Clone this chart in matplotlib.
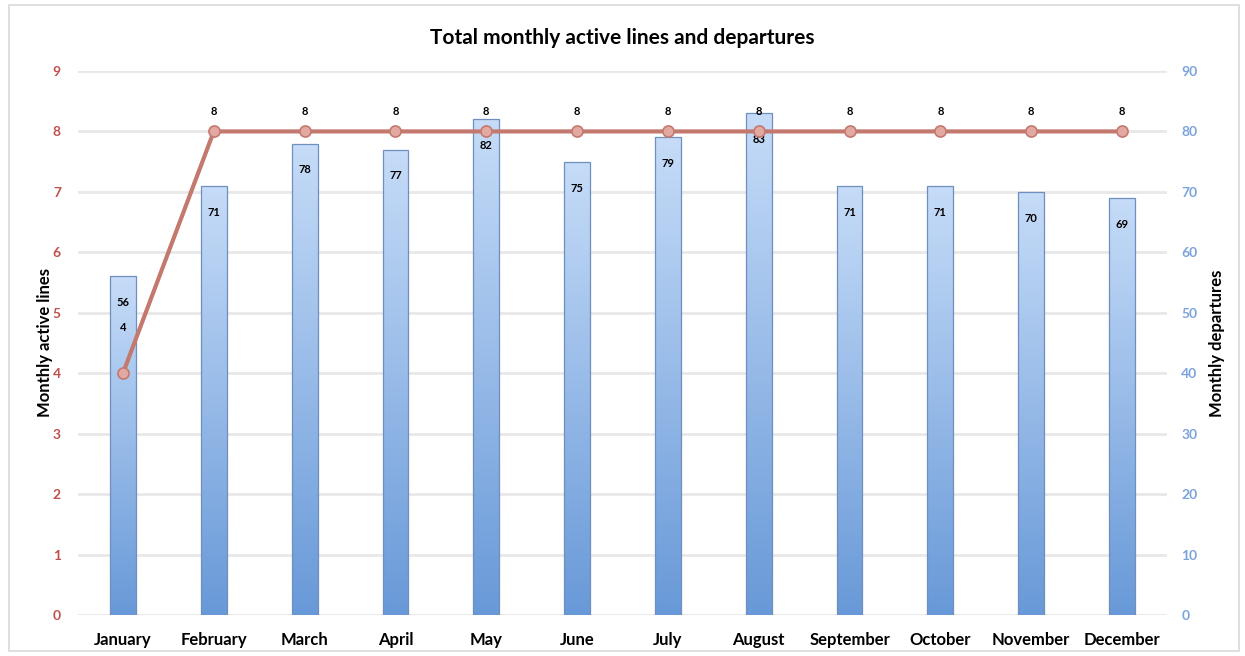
import numpy as np
import matplotlib
matplotlib.use("Agg")
import matplotlib.pyplot as plt
from matplotlib.patches import Rectangle
from matplotlib.colors import LinearSegmentedColormap

months = ["January", "February", "March", "April", "May", "June", "July",
          "August", "September", "October", "November", "December"]
departures = [56, 71, 78, 77, 82, 75, 79, 83, 71, 71, 70, 69]
active_lines = [4, 8, 8, 8, 8, 8, 8, 8, 8, 8, 8, 8]
left_ticks = list(range(0, 10))
right_ticks = list(range(0, 100, 10))

plt.rcParams['font.family'] = ['Lato', 'DejaVu Sans']

fig = plt.figure(figsize=(12.45, 6.56), dpi=100)
fig.patches.append(Rectangle((0.007, 0.008), 0.988, 0.985, transform=fig.transFigure,
                             fill=False, edgecolor='#D9D9D9', lw=1.2, zorder=0))

ax = fig.add_axes([0.0623, 0.0625, 0.8754, 0.8293])
ax2 = ax.twinx()

x = np.arange(len(months))
ax.set_xlim(-0.5, len(months) - 0.5)
ax.set_ylim(0, 9)
ax2.set_ylim(0, 90)

# grid
for t in right_ticks:
    ax2.axhline(t, color='#E8E8E8', lw=2, zorder=0)

# bars with gradient
cmap = LinearSegmentedColormap.from_list('bg', ['#6899D8', '#C6DCF8'])
grad = np.linspace(0, 1, 256).reshape(-1, 1)
bars = ax2.bar(x, departures, width=0.285, color='none', edgecolor='#6F8FBF', lw=0.9, zorder=2)
for b in bars:
    x0, y0 = b.get_x(), b.get_y()
    w, h = b.get_width(), b.get_height()
    im = ax2.imshow(grad, cmap=cmap, aspect='auto', origin='lower',
                    extent=[x0, x0 + w, y0, y0 + h], zorder=1.5, interpolation='bicubic')
    im.set_clip_path(b)
ax2.set_xlim(-0.5, len(months) - 0.5)
ax2.set_ylim(0, 90)
for xi, v in zip(x, departures):
    ax2.annotate(str(v), (xi, v), xytext=(0, -19), textcoords='offset points',
                 ha='center', va='center', fontsize=8, fontweight='bold', color='black', zorder=3)

# line
ax.set_zorder(ax2.get_zorder() + 1)
ax.patch.set_visible(False)
ax.plot(x, active_lines, color='#C4796F', lw=3, marker='o', markersize=8,
        markerfacecolor='#E2A9A2', markeredgecolor='#C4796F', markeredgewidth=1.2, zorder=4)
for i, (xi, v) in enumerate(zip(x, active_lines)):
    off = 33 if i == 0 else 14
    ax.annotate(str(v), (xi, v), xytext=(0, off), textcoords='offset points',
                ha='center', va='center', fontsize=8, fontweight='bold', color='black', zorder=5)

for a in (ax, ax2):
    for s in a.spines.values():
        s.set_visible(False)
    a.tick_params(length=0)

ax.set_yticks(left_ticks)
ax.set_yticklabels([str(t) for t in left_ticks], color='#C0504D', fontweight='bold', fontsize=10)
ax.tick_params(axis='y', pad=12)
ax2.set_yticks(right_ticks)
ax2.set_yticklabels([str(t) for t in right_ticks], color='#7BA3DC', fontweight='bold', fontsize=10)
ax2.tick_params(axis='y', pad=10)
ax.set_xticks(x)
ax.set_xticklabels(months, fontweight='bold', fontsize=12)
ax.tick_params(axis='x', pad=12)

ax.set_ylabel("Monthly active lines", fontweight='bold', fontsize=12, labelpad=0)
ax2.set_ylabel("Monthly departures", fontweight='bold', fontsize=12, labelpad=8)

fig.text(0.5, 0.942, "Total monthly active lines and departures", ha='center', va='center',
         fontsize=15, fontweight='bold')

fig.savefig("out.png", dpi=100)
